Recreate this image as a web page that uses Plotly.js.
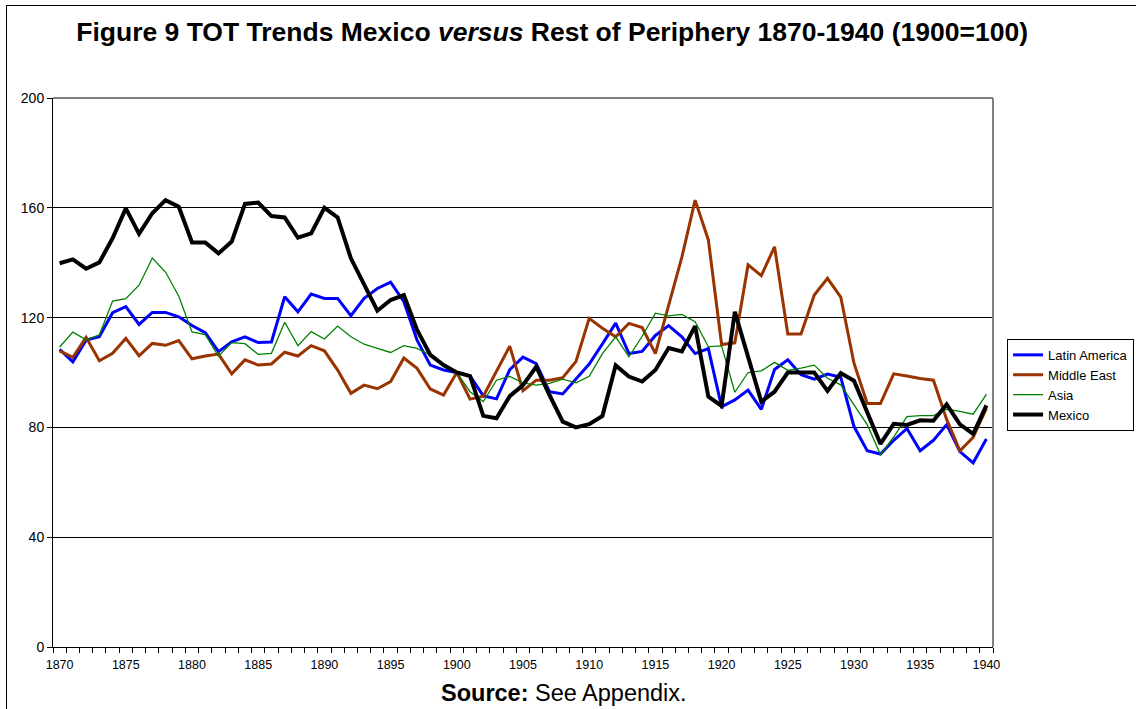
<!DOCTYPE html>
<html>
<head>
<meta charset="utf-8">
<script src="https://cdn.plot.ly/plotly-3.0.1.min.js"></script>
<style>
  html, body { margin: 0; padding: 0; background: #fff; }
  #chart { position: absolute; left: 0; top: 0; width: 1136px; height: 709px; }
  #frame { position: absolute; left: 6px; top: 5px; width: 1200px; height: 800px; border: 1px solid #000; pointer-events: none; }
</style>
</head>
<body>
<div id="chart"></div>
<div id="frame"></div>
<script>
const years = [1870,1871,1872,1873,1874,1875,1876,1877,1878,1879,
  1880,1881,1882,1883,1884,1885,1886,1887,1888,1889,
  1890,1891,1892,1893,1894,1895,1896,1897,1898,1899,
  1900,1901,1902,1903,1904,1905,1906,1907,1908,1909,
  1910,1911,1912,1913,1914,1915,1916,1917,1918,1919,
  1920,1921,1922,1923,1924,1925,1926,1927,1928,1929,
  1930,1931,1932,1933,1934,1935,1936,1937,1938,1939,1940];

const latinAmerica = [108.4,103.9,111.8,113.0,121.8,124.0,117.5,121.9,121.9,120.3,
  117.1,114.5,107.6,111.2,113.0,110.9,111.1,127.6,122.1,128.6,
  127.0,127.0,120.7,127.0,130.6,132.9,125.8,111.8,102.7,100.9,
  100.0,98.8,91.5,90.4,101.0,105.6,103.2,93.0,92.2,97.6,
  103.1,110.4,118.0,106.9,107.7,113.5,117.1,113.0,106.9,108.7,
  87.5,90.0,93.6,86.6,101.1,104.6,99.2,97.6,99.4,98.3,
  80.3,71.5,70.3,75.3,79.6,71.5,75.3,81.0,71.2,67.1,75.8];

const middleEast = [107.9,105.5,112.8,104.3,107.0,112.4,106.1,110.6,109.9,111.6,
  105.0,106.0,106.7,99.5,104.6,102.7,103.1,107.4,106.0,109.8,
  107.9,100.9,92.4,95.4,94.1,96.7,105.3,101.5,94.0,91.8,
  100.0,90.3,91.4,100.5,109.6,93.4,97.2,97.2,98.1,104.0,
  119.7,116.1,113.0,117.9,116.4,106.9,124.0,142.0,162.8,148.3,
  110.2,110.8,139.2,135.3,145.8,114.0,114.0,128.2,134.3,127.5,
  103.4,88.7,88.7,99.5,98.7,97.8,97.2,82.9,71.5,76.4,86.9];

const asia = [109.3,114.7,111.9,113.7,126.0,126.9,131.8,141.7,136.6,127.8,
  114.8,113.8,105.9,110.9,110.5,106.6,107.0,118.3,109.8,114.9,
  112.2,116.9,113.0,110.3,108.8,107.3,109.8,108.8,106.4,102.1,
  100.0,93.0,89.4,97.2,98.6,96.2,95.4,96.0,97.6,96.2,
  98.6,106.9,113.0,105.7,113.2,121.6,120.6,121.2,118.5,109.4,
  109.7,92.8,100.0,100.6,103.7,100.8,101.6,102.7,97.9,95.5,
  88.2,81.0,70.1,76.5,83.9,84.3,84.3,86.6,85.8,84.8,92.0];

const mexico = [139.8,141.2,137.8,140.1,148.9,159.8,150.5,158.0,162.8,160.4,
  147.4,147.4,143.4,147.7,161.4,161.9,157.0,156.5,149.1,150.7,
  160.0,156.5,141.6,131.9,122.5,126.4,128.2,115.5,106.4,102.7,
  100.0,98.7,84.2,83.3,91.4,95.4,102.1,91.8,82.1,80.0,
  81.2,84.2,102.6,98.5,96.7,100.9,108.9,107.7,116.9,91.2,
  87.8,122.1,105.2,89.4,93.0,100.0,100.0,100.0,93.3,99.8,
  97.0,85.8,74.0,81.3,80.9,82.6,82.4,88.4,81.1,77.6,88.0];

const xTickVals = [1870,1875,1880,1885,1890,1895,1900,1905,1910,1915,1920,1925,1930,1935,1940];
const xTickText = ['1870','1875','1880','1885','1890','1895','1900','1905','1910','1915','1920','1925','1930','1935','1940'];
const yTickVals = [0,40,80,120,160,200];

const FONT = 'Arial, "Liberation Sans", sans-serif';

const traces = [
  {x: years, y: latinAmerica, name: 'Latin America', type: 'scatter', mode: 'lines',
   line: {color: '#0000FF', width: 3}},
  {x: years, y: middleEast, name: 'Middle East', type: 'scatter', mode: 'lines',
   line: {color: '#993300', width: 3}},
  {x: years, y: asia, name: 'Asia', type: 'scatter', mode: 'lines',
   line: {color: '#008000', width: 1.3}},
  {x: years, y: mexico, name: 'Mexico', type: 'scatter', mode: 'lines',
   line: {color: '#000000', width: 4}}
];

const layout = {
  width: 1136, height: 709,
  margin: {l: 53, r: 143, t: 98, b: 62, autoexpand: false},
  paper_bgcolor: '#ffffff', plot_bgcolor: '#ffffff',
  font: {family: FONT, color: '#000'},
  title: {
    text: '<b>Figure 9 TOT Trends Mexico <i>versus</i> Rest of Periphery 1870-1940 (1900=100)</b>',
    font: {family: FONT, size: 26.5, color: '#000'},
    x: 0.486, xref: 'container', xanchor: 'center',
    y: 0.955, yref: 'container', yanchor: 'middle'
  },
  xaxis: {
    range: [1869.5, 1940.5],
    tickmode: 'array', tickvals: xTickVals, ticktext: xTickText,
    ticks: '', showgrid: false, zeroline: false,
    showline: true, linecolor: '#000', linewidth: 1,
    ticklabelstandoff: 6,
    tickfont: {family: FONT, size: 12.5, color: '#000'},
    minor: {tick0: 1869.5, dtick: 1, ticks: 'outside', ticklen: 5, tickcolor: '#000', tickwidth: 1, showgrid: false}
  },
  yaxis: {
    range: [0, 200],
    tickmode: 'array', tickvals: yTickVals,
    ticks: 'outside', ticklen: 5, tickcolor: '#000', tickwidth: 1,
    showgrid: true, gridcolor: '#000', gridwidth: 1,
    zeroline: false,
    showline: true, linecolor: '#000', linewidth: 1,
    tickfont: {family: FONT, size: 14, color: '#000'}
  },
  showlegend: true,
  legend: {
    xref: 'container', yref: 'container',
    x: 0.8865, xanchor: 'left', y: 0.522, yanchor: 'top',
    bordercolor: '#000', borderwidth: 1, bgcolor: '#fff',
    font: {family: FONT, size: 13, color: '#000'},
    tracegroupgap: 0
  },
  shapes: [
    {type: 'line', xref: 'paper', yref: 'paper', x0: 0, x1: 1, y0: 1, y1: 1,
     line: {color: '#808080', width: 2}},
    {type: 'line', xref: 'paper', yref: 'paper', x0: 1, x1: 1, y0: 0, y1: 1,
     line: {color: '#808080', width: 2}}
  ],
  annotations: [
    {text: '<b>Source:</b> See Appendix.', xref: 'paper', yref: 'paper',
     x: 0.5436, y: -0.0838, xanchor: 'center', yanchor: 'middle', showarrow: false,
     font: {family: FONT, size: 23.5, color: '#000'}}
  ]
};

Plotly.newPlot('chart', traces, layout, {displayModeBar: false, staticPlot: true});
</script>
</body>
</html>
